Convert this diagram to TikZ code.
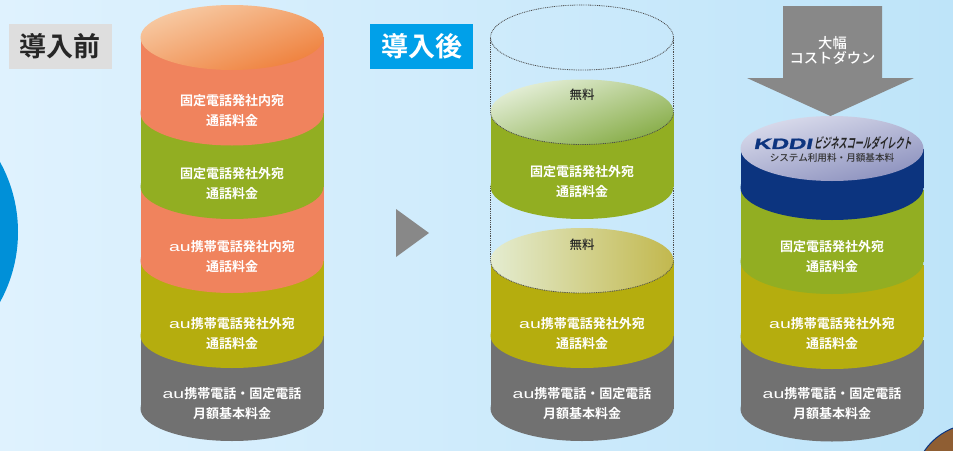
\documentclass[tikz,border=0pt]{standalone}
\usepackage{fontspec}
\setmainfont{Noto Sans CJK JP}[BoldFont={* Bold}]
\newfontfamily\midfont{Noto Sans CJK JP Medium}
\newfontfamily\aufont{Liberation Sans}[FakeStretch=1.5]
\newfontfamily\logolatin{Liberation Sans Bold}[FakeStretch=1.6, FakeSlant=0.2, FakeBold=1.5]
\newfontfamily\logokana{Noto Sans CJK JP Bold}[FakeStretch=0.58, FakeSlant=0.2]
\definecolor{bgleft}{HTML}{DFF2FE}
\definecolor{bgright}{HTML}{BEE4F9}
\definecolor{coral}{HTML}{F0835D}
\definecolor{leaf}{HTML}{92AE22}
\definecolor{olive}{HTML}{B5AD0E}
\definecolor{slate}{HTML}{717171}
\definecolor{navy}{HTML}{0C347F}
\definecolor{marker}{HTML}{888888}
\definecolor{disc}{HTML}{0090D8}
\definecolor{tagblue}{HTML}{00A0E9}
\definecolor{bark}{HTML}{8F5E33}
\tikzset{
	seg/.style={font=\fontsize{13}{20}\selectfont\bfseries, text=white, align=center},
	free/.style={font=\fontsize{12.5}{14}\selectfont\midfont, text=black!85},
	dots/.style={dash pattern=on .9pt off .9pt, line width=.8pt, black!70},
	tagbox/.style={minimum width=103pt, minimum height=45pt, inner sep=0pt, font=\fontsize{27}{27}\selectfont\bfseries},
}
% one slab of a stack: centre x, top y, bottom y, colour
\newcommand{\slab}[4]{
	\fill[#4] (#1-91.5, #2) rectangle (#1+91.5, #3-32.5);
	\fill[#4] (#1, #3-32.5) ellipse [x radius=91.5, y radius=32.5];
}
\newcommand{\au}{{\mdseries\aufont au}}
\begin{document}
\begin{tikzpicture}[x=1pt, y=-1pt]
	\useasboundingbox (0, 0) rectangle (953, 450);
	\shade[left color=bgleft, right color=bgright] (0, 0) rectangle (953, 450);

	% things cut off at the edges
	\begin{scope}
		\clip (0, 0) rectangle (953, 450);
		\fill[disc] (-127, 232) circle [radius=145];
		\filldraw[fill=bark, draw=navy, line width=1pt] (975, 485) circle [radius=61];
	\end{scope}

	\node[tagbox, fill=black!13, text=black!85] (before) at (60, 46.5) {導入前};
	\node[tagbox, fill=tagblue, text=white] (after) at (421.5, 46.5) {導入後};

	% before
	\slab{232}{300}{441}{slate}
	\slab{232}{230}{368}{olive}
	\slab{232}{150}{293}{coral}
	\slab{232}{90}{219}{leaf}
	\slab{232}{37}{145.5}{coral}
	\shade[left color={rgb,255:red,247;green,203;blue,165}, right color={rgb,255:red,239;green,128;blue,60}, shading angle=20] (232, 37.5) ellipse [x radius=91.5, y radius=32.5];
	\node[seg] (befa) at (232, 111) {固定電話発社内宛\\通話料金};
	\node[seg] (befb) at (232, 184) {固定電話発社外宛\\通話料金};
	\node[seg] (befc) at (232, 257) {\au 携帯電話発社内宛\\通話料金};
	\node[seg] (befd) at (232, 334) {\au 携帯電話発社外宛\\通話料金};
	\node[seg] (befe) at (232, 404) {\au 携帯電話・固定電話\\月額基本料金};

	% marker between the stacks
	\fill[marker] (396, 209) -- (429, 233) -- (396, 257) -- cycle;

	% after
	\draw[dots] (582, 37.5) ellipse [x radius=91.5, y radius=32.5];
	\draw[dots] (490.5, 38) -- (490.5, 112);
	\draw[dots] (673.5, 38) -- (673.5, 112);
	\draw[dots] (490.5, 186) -- (490.5, 260);
	\draw[dots] (673.5, 186) -- (673.5, 260);
	\slab{582}{300}{441}{slate}
	\slab{582}{260}{368}{olive}
	\slab{582}{112}{219}{leaf}
	\shade[left color={rgb,255:red,229;green,239;blue,217}, right color={rgb,255:red,134;green,172;blue,70}, shading angle=20] (582, 112) ellipse [x radius=91.5, y radius=32.5];
	\draw[dots] (490.5, 112) arc [start angle=180, end angle=360, x radius=91.5, y radius=-32.5];
	\shade[left color={rgb,255:red,228;green,236;blue,208}, right color={rgb,255:red,194;green,184;blue,78}] (582, 260.5) ellipse [x radius=91.5, y radius=32.5];
	\draw[dots] (490.5, 260.5) arc [start angle=180, end angle=360, x radius=91.5, y radius=-32.5];
	\node[free] (freea) at (582, 95) {無料};
	\node[free] (freeb) at (582, 245) {無料};
	\node[seg] (afta) at (582, 182) {固定電話発社外宛\\通話料金};
	\node[seg] (aftb) at (582, 334) {\au 携帯電話発社外宛\\通話料金};
	\node[seg] (aftc) at (582, 404) {\au 携帯電話・固定電話\\月額基本料金};

	% after, with the service
	\slab{832}{340}{441.5}{slate}
	\slab{832}{265}{369}{olive}
	\slab{832}{190}{294}{leaf}
	\slab{832}{149}{220}{navy}
	\shade[left color={rgb,255:red,218;green,220;blue,236}, right color={rgb,255:red,140;green,145;blue,190}, shading angle=15] (832, 148.5) ellipse [x radius=91.5, y radius=32.5];
	\node[seg] (kdda) at (832, 257) {固定電話発社外宛\\通話料金};
	\node[seg] (kddb) at (832, 334) {\au 携帯電話発社外宛\\通話料金};
	\node[seg] (kddc) at (832, 404) {\au 携帯電話・固定電話\\月額基本料金};
	\node[inner sep=0pt] (logo) at (832.5, 143.5) {\fontsize{15}{15}\selectfont\textcolor{navy}{\logolatin KDDI}\hspace{2pt}\fontsize{14}{14}\selectfont\textcolor{black!85}{\logokana ビジネスコールダイレクト}};
	\node[font=\fontsize{9.6}{10}\selectfont\midfont, text=black!80, inner sep=0pt] (service) at (832, 158) {システム利用料・月額基本料};

	\fill[marker] (783, 6) -- (882, 6) -- (882, 78) -- (914, 78) -- (830.5, 116) -- (747, 78) -- (783, 78) -- cycle;
	\node[font=\fontsize{14.3}{15}\selectfont\midfont, text=white, align=center] (cut) at (832.5, 51) {大幅\\コストダウン};
\end{tikzpicture}
\end{document}
